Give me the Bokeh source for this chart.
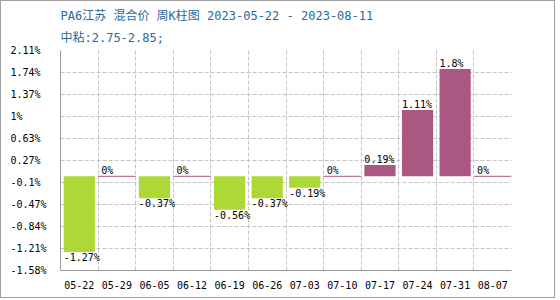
from bokeh.plotting import figure
from bokeh.models import FixedTicker, Title, Range1d
from bokeh.embed import file_html
from bokeh.resources import INLINE
from bokeh.core.properties import value

# ---- data ----
weeks = ["05-22", "05-29", "06-05", "06-12", "06-19", "06-26",
         "07-03", "07-10", "07-17", "07-24", "07-31", "08-07"]
changes = [-1.27, 0, -0.37, 0, -0.56, -0.37, -0.19, 0, 0.19, 1.11, 1.8, 0]
y_ticks = [2.11, 1.74, 1.37, 1, 0.63, 0.27, -0.1, -0.47, -0.84, -1.21, -1.58]
title_text = "PA6江苏 混合价 周K柱图 2023-05-22 - 2023-08-11"
subtitle_text = "中粘:2.75-2.85;"

GREEN = "#ADD835"
PURPLE = "#AA5782"
MONO = "DejaVu Sans Mono, Noto Sans CJK SC"
BAR_W = 0.83

xs = list(range(len(weeks)))

p = figure(width=555, height=298, output_backend="svg", toolbar_location=None,
           x_range=Range1d(-0.5, len(weeks) - 0.5),
           y_range=Range1d(min(y_ticks), max(y_ticks)),
           min_border_left=59, min_border_right=45, min_border_top=49,
           min_border_bottom=29, title=None)
p.styles = {"border": "1px solid #a0a0a0"}
p.outline_line_color = None
p.background_fill_color = "white"
p.border_fill_color = "white"

# titles
p.add_layout(Title(text=subtitle_text, text_font=MONO, text_font_size="12px",
                   text_color="#2a6a9a", text_font_style="normal", align="left",
                   standoff=12), "above")
p.add_layout(Title(text=title_text, text_font=MONO, text_font_size="12px",
                   text_color="#2a6a9a", text_font_style="normal", align="left",
                   standoff=0), "above")

# grids
p.xgrid.ticker = FixedTicker(ticks=[i + 0.5 for i in xs])
p.ygrid.ticker = FixedTicker(ticks=y_ticks)
for g in (p.xgrid, p.ygrid):
    g.grid_line_color = "#c4c4c4"
    g.grid_line_dash = "4 2"
    g.grid_line_width = 1

# axes
p.xaxis.ticker = FixedTicker(ticks=xs)
p.xaxis.major_label_overrides = {i: w for i, w in zip(xs, weeks)}
p.yaxis.ticker = FixedTicker(ticks=y_ticks)
p.yaxis.major_label_overrides = {
    t: (f"{t:g}%").ljust(6, "\u00a0") for t in y_ticks}
for ax in (p.xaxis, p.yaxis):
    ax.axis_line_color = "#999999"
    ax.major_tick_line_color = None
    ax.minor_tick_line_color = None
    ax.major_tick_out = 0
    ax.major_tick_in = 0
    ax.major_label_text_font = MONO
    ax.major_label_text_font_size = "10px"
    ax.major_label_text_color = "black"
p.xaxis.major_label_standoff = 10
p.yaxis.major_label_standoff = 14

# bars
neg_x = [x for x, v in zip(xs, changes) if v < 0]
neg_v = [v for v in changes if v < 0]
pos_x = [x for x, v in zip(xs, changes) if v > 0]
pos_v = [v for v in changes if v > 0]
zero_x = [x for x, v in zip(xs, changes) if v == 0]

p.vbar(x=neg_x, top=0, bottom=neg_v, width=BAR_W, fill_color=GREEN, line_color=None)
p.vbar(x=pos_x, top=pos_v, bottom=0, width=BAR_W, fill_color=PURPLE, line_color=None)
p.segment(x0=[x - 0.5 for x in zero_x], x1=[x + 0.5 for x in zero_x],
          y0=0, y1=0, line_color=PURPLE, line_width=1)

# value labels
def lab(v):
    return f"{v:g}%"

p.text(x=[x - BAR_W / 2 for x in neg_x], y=neg_v, text=[lab(v) for v in neg_v],
       text_font=value("DejaVu Sans Mono"), text_font_size="10px",
       text_baseline="top", text_align="left", text_color="black")
up_x = [x for x, v in zip(xs, changes) if v >= 0]
up_v = [v for v in changes if v >= 0]
p.text(x=[x - BAR_W / 2 for x in up_x], y=up_v, text=[lab(v) for v in up_v],
       text_font=value("DejaVu Sans Mono"), text_font_size="10px",
       text_baseline="bottom", text_align="left", text_color="black")

open("out.html", "w").write(file_html(p, INLINE))
